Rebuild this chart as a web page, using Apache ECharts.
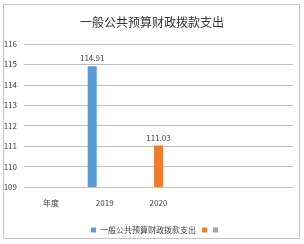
<!DOCTYPE html>
<html>
<head>
<meta charset="utf-8">
<script src="https://cdn.jsdelivr.net/npm/echarts@6/dist/echarts.min.js"></script>
<style>
html,body{margin:0;padding:0;background:#fff;}
#chart{width:304px;height:244px;}
</style>
</head>
<body>
<div id="chart"></div>
<script>
var titleText = '一般公共预算财政拨款支出';
var categories = ['年度', '2019', '2020', '', ''];
var seriesNames = ['一般公共预算财政拨款支出', '系列2', '系列3'];
var seriesA = [null, 114.91, null, null, null];
var seriesB = [null, null, 111.03, null, null];
var seriesC = [null, null, null, null, null];
var yMin = 109, yMax = 116, yInterval = 1;
var colors = ['#5b9bd5', '#ed7d31', '#a5a5a5'];

var font = '"Noto Sans CJK SC", "Noto Sans", sans-serif';
var chart = echarts.init(document.getElementById('chart'), null, {renderer: 'canvas'});
function mk(name, data, color) {
  return {
    name: name, type: 'bar', data: data, barWidth: 9, barGap: '39%',
    itemStyle: {color: color},
    label: {show: true, position: 'top', distance: 4, color: '#404040', fontSize: 8, fontFamily: font}
  };
}
chart.setOption({
  animation: false,
  color: colors,
  title: {
    text: titleText, left: 'center', top: 11,
    textStyle: {fontSize: 12, fontWeight: 'normal', color: '#333', fontFamily: font}
  },
  graphic: [{
    type: 'rect', shape: {x: 3.5, y: 4.5, width: 296, height: 234},
    style: {fill: 'none', stroke: '#c4c4c4', lineWidth: 1}, z: -1
  }],
  legend: {
    left: 86, top: 221, itemWidth: 5, itemHeight: 5, itemGap: 6,
    icon: 'rect',
    textStyle: {fontSize: 8, color: '#404040', fontFamily: font, padding: [0, 0, 0, -1]},
    formatter: function (n) { return n === seriesNames[0] ? n : ''; },
    data: seriesNames
  },
  grid: {left: 24, right: 11, top: 44, bottom: 57, containLabel: false},
  xAxis: {
    type: 'category', data: categories,
    axisLine: {lineStyle: {color: '#c0c0c0'}},
    axisTick: {show: false},
    axisLabel: {fontSize: 8, color: '#404040', fontFamily: font, margin: 12}
  },
  yAxis: {
    type: 'value', min: yMin, max: yMax, interval: yInterval,
    axisLine: {show: false}, axisTick: {show: false},
    splitLine: {lineStyle: {color: '#c0c0c0'}},
    axisLabel: {fontSize: 8, color: '#404040', fontFamily: font, margin: 7}
  },
  series: [mk(seriesNames[0], seriesA, colors[0]), mk(seriesNames[1], seriesB, colors[1]), mk(seriesNames[2], seriesC, colors[2])]
});
</script>
</body>
</html>
